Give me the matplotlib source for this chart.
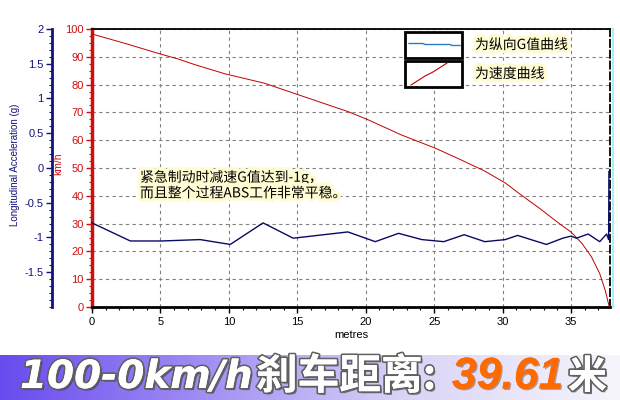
import numpy as np
import matplotlib
matplotlib.use('Agg')
import matplotlib.pyplot as plt
import matplotlib.patheffects as pe
from matplotlib.colors import LinearSegmentedColormap
from matplotlib.lines import Line2D
from matplotlib.patches import Rectangle
from matplotlib.ticker import MultipleLocator

CJK = ['Noto Sans CJK SC', 'DejaVu Sans']
LAT = ['Liberation Sans', 'Noto Sans CJK SC']

# speed trace (km/h) vs distance (m)
dist_speed = [0, 2.5, 5, 6.3, 7.5, 9.7, 12.6, 15.1, 18.7, 20.2, 22.6, 25.1, 26.8,
              28.7, 30.2, 31.3, 32.7, 34.2, 35.0, 35.8, 36.5, 37.1, 37.5, 37.8]
speed = [98.2, 94.7, 91.0, 89.2, 87.2, 83.9, 80.5, 76.3, 70.3, 67.3, 61.9, 57.1, 53.3,
         48.9, 44.6, 40.5, 35.5, 29.8, 27.0, 22.9, 18.0, 12.0, 6.0, 0.0]

# longitudinal acceleration (g) vs distance (m)
dist_g = [0, 2.8, 5.1, 7.9, 10.1, 12.5, 14.7, 18.7, 20.7, 22.4, 24.1, 25.7, 27.2,
          28.7, 30.2, 31.1, 33.2, 34.4, 35.0, 35.4, 36.25, 37.1, 37.6, 37.75, 37.77]
g_val = [-0.79, -1.05, -1.05, -1.03, -1.10, -0.79, -1.01, -0.92, -1.06, -0.94, -1.03,
         -1.06, -0.96, -1.06, -1.03, -0.97, -1.10, -1.01, -0.98, -1.01, -0.95, -1.06,
         -0.95, -1.03, -0.05]

x_ticks = [0, 5, 10, 15, 20, 25, 30, 35]
speed_ticks = [0, 10, 20, 30, 40, 50, 60, 70, 80, 90, 100]
g_ticks = [-1.5, -1, -0.5, 0, 0.5, 1, 1.5, 2]
g_tick_labels = ['-1.5', '-1', '-0.5', '0', '0.5', '1', '1.5', '2']

legend_labels = ['为纵向G值曲线', '为速度曲线']
note = '紧急制动时减速G值达到-1g，\n而且整个过程ABS工作非常平稳。'
title_parts = ['100-0km/h', '刹车距离:', '39.61', '米']

RED = '#cc1111'
NAVY = '#12127a'
W, H = 620, 400


def fx(px):
    return px / W


def fy(py):
    return 1 - py / H


fig = plt.figure(figsize=(6.2, 4), dpi=100)
fig.patch.set_facecolor('white')

ax = fig.add_axes([fx(92), fy(307), (610 - 92) / W, (307 - 29) / H])
ax.set_xlim(0, 37.85)
ax.set_ylim(0, 100)
ax.set_xticks(x_ticks)
ax.xaxis.set_minor_locator(MultipleLocator(1))
ax.set_yticks(speed_ticks)
ax.yaxis.set_minor_locator(MultipleLocator(2.5))
ax.grid(True, which='major', ls=(0, (3, 3)), color='#808080', lw=0.8)
ax.tick_params(axis='x', labelsize=8, length=4, width=1, pad=3)
ax.tick_params(axis='x', which='minor', length=2, width=0.8)
ax.tick_params(axis='y', colors=RED, labelsize=8, length=4, width=1, pad=2)
ax.tick_params(axis='y', which='minor', colors=RED, length=2, width=0.8)
for lab in ax.get_xticklabels() + ax.get_yticklabels():
    lab.set_family('Liberation Sans')
ax.spines['left'].set_color(RED)
ax.spines['left'].set_linewidth(2.5)
ax.spines['bottom'].set_linewidth(2)
ax.spines['top'].set_linewidth(1.3)
ax.spines['right'].set_linestyle((0, (4, 2)))
ax.spines['right'].set_linewidth(1.3)
ax.set_xlabel('metres', fontsize=8, family='Liberation Sans', labelpad=2)

ax.plot(dist_speed, speed, color='#c00000', lw=0.7, zorder=3)

ax2 = ax.twinx()
ax2.set_ylim(-2, 2)
ax2.set_yticks(g_ticks)
ax2.set_yticklabels(g_tick_labels)
ax2.yaxis.set_minor_locator(MultipleLocator(0.1))
ax2.yaxis.set_ticks_position('left')
ax2.spines['left'].set_position(('axes', -40 / 518))
ax2.spines['left'].set_visible(True)
ax2.spines['left'].set_color(NAVY)
ax2.spines['left'].set_linewidth(2)
for s in ['right', 'top', 'bottom']:
    ax2.spines[s].set_visible(False)
ax2.tick_params(axis='y', colors=NAVY, labelsize=8, length=4, width=1, pad=2)
ax2.tick_params(axis='y', which='minor', colors=NAVY, length=2, width=0.8)
for lab in ax2.get_yticklabels():
    lab.set_family('Liberation Sans')
ax2.plot(dist_g, g_val, color='#0a0a66', lw=1, zorder=3, clip_on=False)

# cyan edge line on the right
fig.add_artist(Line2D([fx(613), fx(613)], [fy(29), fy(307)], color='#a8f0f4', lw=1.5))

fig.text(fx(15), fy(165), 'Longitudinal Acceleration (g)', rotation=90, color=NAVY,
         fontsize=7, family='Liberation Sans', ha='center', va='center')
fig.text(fx(58), fy(164), 'km/h', rotation=90, color=RED,
         fontsize=7.5, family='Liberation Sans', ha='center', va='center')

# legend boxes
glow = [pe.withStroke(linewidth=5, foreground='#fffbd2')]
for i, (top, lab) in enumerate(zip([32, 61], legend_labels)):
    fig.add_artist(Rectangle((fx(405), fy(top + 25.5)), 57 / W, 25.5 / H,
                             transform=fig.transFigure, fc='white', ec='black', lw=2))
    fig.text(fx(475), fy(top + 13), lab, fontsize=10, family=CJK, va='center',
             ha='left', path_effects=glow)
fig.add_artist(Line2D([fx(409), fx(423), fx(425), fx(450), fx(452), fx(460)],
                      [fy(43.5), fy(43.5), fy(44.5), fy(44.5), fy(45.5), fy(45.5)],
                      color='#2d7cc8', lw=1))
fig.add_artist(Line2D([fx(411), fx(425), fx(433), fx(447)],
                      [fy(85), fy(76), fy(72), fy(63)], color='#c00000', lw=0.8))

fig.text(fx(140), fy(185), note, fontsize=10, family=CJK, va='center', ha='left',
         linespacing=1.15, path_effects=glow)

# bottom banner
bax = fig.add_axes([0, 0, 1, 45 / H])
cmap = LinearSegmentedColormap.from_list(
    'band', [(0, '#6a4bef'), (0.3, '#9d88f3'), (0.65, '#d9d3f6'), (1, '#f7f5fc')])
bax.imshow(np.linspace(0, 1, 256)[None, :], aspect='auto', cmap=cmap,
           extent=[0, 1, 0, 1])
bax.set_axis_off()

shadow = [pe.withSimplePatchShadow(offset=(1.5, -1.5), shadow_rgbFace='#333333', alpha=0.6),
          pe.withStroke(linewidth=2.5, foreground='#606060'), pe.Normal()]
fig.text(fx(20), fy(377), title_parts[0], fontsize=28, weight='bold', style='oblique',
         family='DejaVu Sans', color='white', va='center', ha='left', path_effects=shadow)
fig.text(fx(256), fy(377), title_parts[1], fontsize=30, weight='bold',
         family=CJK, color='white', va='center', ha='left', path_effects=shadow)
fig.text(fx(452), fy(377), title_parts[2], fontsize=32, weight='bold', style='italic',
         family=LAT, color='#ff6a00', va='center', ha='left',
         path_effects=[pe.withSimplePatchShadow(offset=(1, -1), alpha=0.4), pe.Normal()])
fig.text(fx(568), fy(377), title_parts[3], fontsize=28, weight='bold',
         family=CJK, color='white', va='center', ha='left', path_effects=shadow)

fig.savefig('out.png', dpi=100)
